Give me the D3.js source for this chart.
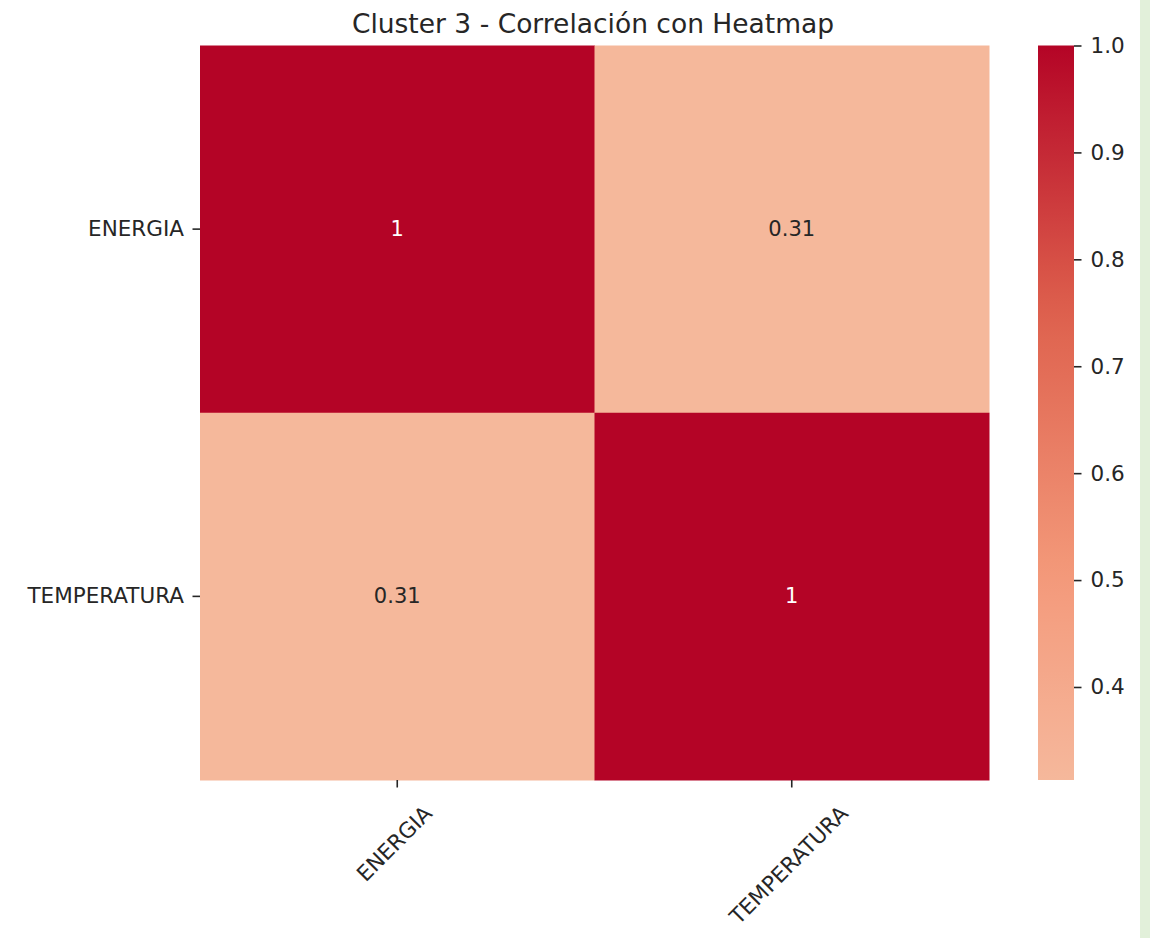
<!DOCTYPE html>
<html>
    <head>
        <meta charset="UTF-8">
        <title>Cluster 3 - Correlación con Heatmap</title>
        <style>
            body { margin: 0; background: #fff; }
            text { font-family: "DejaVu Sans", sans-serif; fill: #262626; }
        </style>
    </head>
    <body>
        <script src="https://d3js.org/d3.v7.min.js"></script>
        <svg></svg>
        <script>
            let variables = ["ENERGIA", "TEMPERATURA"];
            let corr = [
                [1, 0.313],
                [0.313, 1]
            ];
            let colorbarTicks = [0.4, 0.5, 0.6, 0.7, 0.8, 0.9, 1.0];
            let vmin = d3.min(corr.flat()), vmax = d3.max(corr.flat());

            let svg = d3.select("svg")
                .attr("width", 1150)
                .attr("height", 938);

            // green strip at the right edge of the screenshot
            svg.append("rect")
                .attr("x", 1140).attr("y", 0)
                .attr("width", 10).attr("height", 938)
                .attr("fill", "#e2f0da");

            let margin = {top: 45.5, left: 200};
            let width = 789, height = 734.5;
            let fs = 21.5;

            let chart = svg.append("g")
                .attr("transform", "translate(" + margin.left + "," + margin.top + ")");

            let xScale = d3.scaleBand().domain(variables).range([0, width]);
            let yScale = d3.scaleBand().domain(variables).range([0, height]);

            // upper half of coolwarm (seaborn center=0)
            let colorScale = d3.scaleLinear()
                .domain([0.31, 0.5, 0.75, 1])
                .range(["#f5b89c", "#f49a7b", "#de614d", "#b40426"])
                .interpolate(d3.interpolateRgb);

            let cells = [];
            variables.forEach((row, i) => {
                variables.forEach((col, j) => {
                    cells.push({row: row, col: col, value: corr[i][j]});
                });
            });

            chart.selectAll("rect.cell")
                .data(cells)
                .enter()
                .append("rect")
                .attr("class", "cell")
                .attr("x", d => xScale(d.col))
                .attr("y", d => yScale(d.row))
                .attr("width", xScale.bandwidth() + 0.5)
                .attr("height", yScale.bandwidth() + 0.5)
                .attr("fill", d => colorScale(d.value));

            chart.selectAll("text.annot")
                .data(cells)
                .enter()
                .append("text")
                .attr("class", "annot")
                .attr("x", d => xScale(d.col) + xScale.bandwidth() / 2)
                .attr("y", d => yScale(d.row) + yScale.bandwidth() / 2)
                .attr("text-anchor", "middle")
                .attr("dominant-baseline", "central")
                .style("font-size", "21px")
                .style("fill", d => d.value > 0.6 ? "#ffffff" : "#262626")
                .text(d => d3.format(".2~g")(d.value));

            // y axis
            let yAxis = chart.append("g")
                .call(d3.axisLeft(yScale).tickSize(7.5).tickPadding(8.5));
            yAxis.select(".domain").remove();
            yAxis.selectAll("line").attr("stroke", "#262626").attr("stroke-width", 1.6);
            yAxis.selectAll("text").style("font-size", fs + "px").attr("fill", "#262626");

            // x axis with rotated labels
            let xAxis = chart.append("g")
                .attr("transform", "translate(0," + height + ")")
                .call(d3.axisBottom(xScale).tickSize(7.5));
            xAxis.select(".domain").remove();
            xAxis.selectAll("line").attr("stroke", "#262626").attr("stroke-width", 1.6);
            xAxis.selectAll("text")
                .style("font-size", fs + "px")
                .attr("fill", "#262626")
                .attr("dy", null)
                .attr("dominant-baseline", "central")
                .attr("text-anchor", "middle")
                .each(function() {
                    let w = this.getComputedTextLength();
                    let half = (w + fs) * Math.SQRT1_2 / 2;
                    d3.select(this)
                        .attr("y", null)
                        .attr("transform", "translate(-3," + (22 + half) + ") rotate(-45)");
                });

            // colorbar
            let cbX = 1038, cbW = 36;
            let cbScale = d3.scaleLinear()
                .domain([vmin, vmax])
                .range([margin.top + height, margin.top]);

            let defs = svg.append("defs");
            let grad = defs.append("linearGradient")
                .attr("id", "cbgrad")
                .attr("x1", 0).attr("y1", 1).attr("x2", 0).attr("y2", 0);
            d3.range(0, 1.0001, 0.05).forEach(t => {
                grad.append("stop")
                    .attr("offset", t)
                    .attr("stop-color", colorScale(vmin + t * (vmax - vmin)));
            });

            svg.append("rect")
                .attr("x", cbX)
                .attr("y", cbScale(vmax))
                .attr("width", cbW)
                .attr("height", cbScale(vmin) - cbScale(vmax))
                .attr("fill", "url(#cbgrad)");

            let cbAxis = svg.append("g")
                .attr("transform", "translate(" + (cbX + cbW) + ",0)")
                .call(d3.axisRight(cbScale).tickValues(colorbarTicks).tickFormat(d3.format(".1f")).tickSize(7.5).tickPadding(9));
            cbAxis.select(".domain").remove();
            cbAxis.selectAll("line").attr("stroke", "#262626").attr("stroke-width", 1.6);
            cbAxis.selectAll("text").style("font-size", fs + "px").attr("fill", "#262626");

            // title
            svg.append("text")
                .attr("x", 593)
                .attr("y", 33)
                .attr("text-anchor", "middle")
                .style("font-size", "26.5px")
                .text("Cluster 3 - Correlación con Heatmap");
        </script>
    </body>
</html>
